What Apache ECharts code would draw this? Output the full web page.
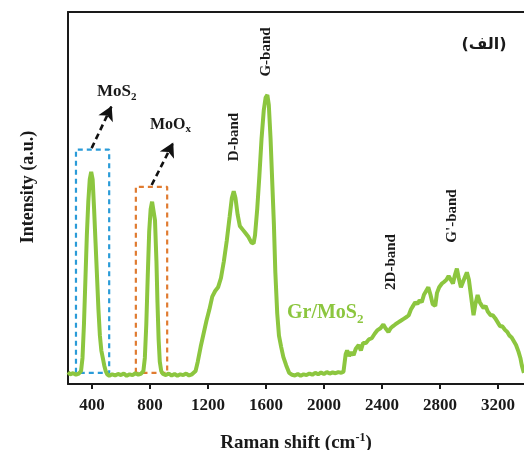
<!DOCTYPE html>
<html>
<head>
<meta charset="utf-8">
<script src="https://cdn.jsdelivr.net/npm/echarts@6/dist/echarts.min.js"></script>
<style>
  html, body { margin: 0; padding: 0; background: #fff; }
  #chart { width: 524px; height: 450px; }
</style>
</head>
<body>
<div id="chart"></div>
<script>
// Raman spectrum of Gr/MoS2 (y in arbitrary units, 0-100)
const ramanShift = [
  235, 250, 270, 290, 310, 325, 335, 345, 355, 365, 375, 385, 395, 405, 415, 425, 435, 445, 455, 465, 475, 485, 495, 505,
  520, 540, 560, 580, 600, 620, 640, 660, 680, 700, 720, 740, 755, 765, 775, 785, 795, 805, 815, 825, 835, 845, 852, 860, 868, 878,
  890, 910, 930, 950, 970, 990, 1010, 1030, 1050, 1070, 1090, 1100, 1115, 1130, 1150, 1170, 1190, 1210, 1230, 1250, 1270, 1290,
  1310, 1330, 1350, 1365, 1378, 1390, 1405, 1420, 1440, 1460, 1480, 1500, 1515, 1525, 1540, 1555, 1570, 1585, 1598, 1610, 1620,
  1632, 1645, 1655, 1665, 1678, 1690, 1705, 1720, 1740, 1760, 1780, 1800, 1820, 1840, 1860, 1880, 1900, 1920, 1940, 1960, 1980,
  2000, 2020, 2040, 2060, 2080, 2100, 2120, 2135, 2150, 2160, 2175, 2190, 2205, 2220, 2240, 2255, 2270, 2290, 2310, 2330, 2350,
  2370, 2390, 2410, 2425, 2445, 2460, 2475, 2492, 2510, 2530, 2550, 2570, 2585, 2600, 2615, 2630, 2645, 2660, 2675, 2690, 2705,
  2720, 2735, 2750, 2768, 2780, 2795, 2814, 2830, 2845, 2860, 2875, 2890, 2905, 2917, 2930, 2945, 2955, 2970, 2986, 3000, 3015,
  3032, 3045, 3060, 3075, 3090, 3101, 3115, 3130, 3150, 3165, 3181, 3200, 3215, 3230, 3250, 3265, 3280, 3295, 3310, 3325, 3342,
  3355, 3365, 3377, 3380
];
const intensity = [
  3.2, 2.6, 2.9, 2.5, 2.8, 3.5, 7, 16, 28, 40, 49, 55, 57, 55, 47, 38, 29, 20, 13, 9, 7, 5, 3.5, 2.6,
  2.2, 2.6, 2.3, 2.7, 2.4, 2.8, 2.2, 2.6, 2.4, 2.9, 2.5, 2.8, 3.5, 7, 16, 29, 41, 47, 49, 48.5, 44, 33, 22, 12, 6, 3.5,
  2.7, 2.4, 2.8, 2.3, 2.7, 2.2, 2.6, 2.4, 2.8, 2.3, 2.6, 2.8, 3.5, 6, 10, 13.5, 17, 20, 23.5, 25, 26, 28.5,
  33, 38.5, 45, 50, 51.8, 50, 45.5, 42.5, 41.5, 40.5, 39.5, 38, 37.8, 40, 47, 56, 66, 73.5, 77, 77.7, 75,
  66, 53, 43, 30, 19, 13, 10, 7.3, 5, 3, 2.5, 2.3, 2.7, 2.2, 2.6, 2.4, 2.8, 2.5, 3.0, 2.6, 3.1,
  2.7, 3.2, 2.8, 3.1, 2.9, 3.2, 3.0, 3.3, 8, 9, 7.5, 8.5, 7.8, 9.5, 10.5, 9, 11, 11, 12, 12.3, 13.5,
  14.5, 15, 16, 15, 14, 15, 15.5, 16, 16.5, 17, 17.5, 18, 18.5, 20, 21, 22, 21.5, 22.5, 22, 24, 25,
  26, 24, 21.5, 21, 24.5, 26, 27, 27.5, 28, 29, 28, 27, 29.5, 31, 28.5, 26, 26, 28.5, 30, 28, 23.5,
  18.5, 21.5, 23.9, 22, 21, 20.4, 21, 19.5, 18.5, 18.5, 17.7, 16.5, 15.5, 15.5, 14.5, 14, 13, 12.5, 11.5, 10.5, 8.7,
  7, 5, 3.3, 3
];
const xTicks = [400, 800, 1200, 1600, 2000, 2400, 2800, 3200];

// dashed boxes and arrows around the MoS2 / MoOx peaks (data coordinates)
const mos2BoxX = [290, 290, 519, 519, 290];
const mos2BoxY = [3, 63, 63, 3, 3];
const mooxBoxX = [703, 703, 919, 919, 703];
const mooxBoxY = [3, 53, 53, 3, 3];
const mos2Arrow = [[398, 63.4], [536, 74.7]];
const mooxArrow = [[812, 53.5], [961, 64.9]];

const serif = '"Liberation Serif", "DejaVu Serif", serif';
const green = '#8cc63f';
const ink = '#1a1a1a';

function zip(xs, ys) {
  return xs.map(function (x, i) { return [x, ys[i]]; });
}

let myChart = echarts.init(document.getElementById('chart'), null, { renderer: 'canvas' });

let option = {
  animation: false,
  backgroundColor: '#fff',
  grid: { left: 68, top: 12, right: 0, bottom: 66, outerBoundsMode: 'none', containLabel: false },
  xAxis: [
    {
      type: 'value',
      min: 235,
      max: 3380,
      name: 'Raman shift (cm{sup|-1})',
      nameLocation: 'middle',
      nameGap: 48,
      nameTextStyle: {
        fontFamily: serif, fontWeight: 'bold', fontSize: 19, color: ink,
        rich: {
          sup: { fontFamily: serif, fontWeight: 'bold', fontSize: 12, color: ink, verticalAlign: 'top', padding: [0, 0, 10, 0] }
        }
      },
      axisLine: { lineStyle: { color: ink, width: 2 } },
      axisTick: { customValues: xTicks, length: 5, lineStyle: { color: ink, width: 2 } },
      axisLabel: {
        customValues: xTicks, margin: 13,
        fontFamily: serif, fontWeight: 'bold', fontSize: 17, color: ink,
        formatter: function (v) { return String(v); }
      },
      splitLine: { show: false }
    },
    {
      // top frame line only
      type: 'value', position: 'top', min: 235, max: 3380,
      axisLine: { show: true, lineStyle: { color: ink, width: 2 } },
      axisTick: { show: false },
      axisLabel: { show: false },
      splitLine: { show: false }
    }
  ],
  yAxis: {
    type: 'value',
    min: 0,
    max: 100,
    axisLine: { show: true, lineStyle: { color: ink, width: 2 } },
    axisTick: { show: false },
    axisLabel: { show: false },
    splitLine: { show: false }
  },
  series: [
    {
      type: 'line', data: zip(mos2BoxX, mos2BoxY), symbol: 'none', z: 1,
      lineStyle: { color: '#2a9bd8', width: 2.2, type: [5, 4] }
    },
    {
      type: 'line', data: zip(mooxBoxX, mooxBoxY), symbol: 'none', z: 1,
      lineStyle: { color: '#e07b30', width: 2.2, type: [5, 4] }
    },
    {
      type: 'line', data: zip(ramanShift, intensity), symbol: 'none', z: 3,
      lineStyle: { color: green, width: 4 }
    },
    {
      type: 'line', data: [], symbol: 'none', z: 4,
      markLine: {
        silent: true,
        symbol: ['none', 'arrow'],
        symbolSize: [12, 14],
        label: { show: false },
        lineStyle: { color: '#111', width: 2.6, type: [6, 4] },
        data: [
          [{ coord: mos2Arrow[0] }, { coord: mos2Arrow[1] }],
          [{ coord: mooxArrow[0] }, { coord: mooxArrow[1] }]
        ]
      }
    }
  ],
  graphic: [
    {
      type: 'text', x: 28, y: 187, rotation: Math.PI / 2,
      style: { text: 'Intensity (a.u.)', font: 'bold 18px ' + serif, fill: ink, align: 'center', verticalAlign: 'middle' }
    },
    {
      type: 'text', x: 97, y: 81,
      style: {
        text: '{m|MoS}{s|2}', fill: ink,
        rich: {
          m: { font: 'bold 17px ' + serif, fill: ink, lineHeight: 22 },
          s: { font: 'bold 11px ' + serif, fill: ink, lineHeight: 22, verticalAlign: 'bottom' }
        }
      }
    },
    {
      type: 'text', x: 150, y: 114,
      style: {
        text: '{m|MoO}{s|x}', fill: ink,
        rich: {
          m: { font: 'bold 16px ' + serif, fill: ink, lineHeight: 21 },
          s: { font: 'bold 11px ' + serif, fill: ink, lineHeight: 21, verticalAlign: 'bottom' }
        }
      }
    },
    {
      type: 'text', x: 234, y: 137, rotation: Math.PI / 2,
      style: { text: 'D-band', font: 'bold 15px ' + serif, fill: ink, align: 'center', verticalAlign: 'middle' }
    },
    {
      type: 'text', x: 266, y: 52, rotation: Math.PI / 2,
      style: { text: 'G-band', font: 'bold 15px ' + serif, fill: ink, align: 'center', verticalAlign: 'middle' }
    },
    {
      type: 'text', x: 391, y: 262, rotation: Math.PI / 2,
      style: { text: '2D-band', font: 'bold 15px ' + serif, fill: ink, align: 'center', verticalAlign: 'middle' }
    },
    {
      type: 'text', x: 452, y: 216, rotation: Math.PI / 2,
      style: { text: "G'-band", font: 'bold 15px ' + serif, fill: ink, align: 'center', verticalAlign: 'middle' }
    },
    {
      type: 'text', x: 484, y: 45,
      style: { text: '(الف)', font: 'bold 16px "DejaVu Sans", sans-serif', fill: ink, align: 'center', verticalAlign: 'middle' }
    },
    {
      type: 'text', x: 287, y: 300,
      style: {
        text: '{m|Gr/MoS}{s|2}', fill: green,
        rich: {
          m: { font: 'bold 20px ' + serif, fill: green, lineHeight: 26 },
          s: { font: 'bold 13px ' + serif, fill: green, lineHeight: 26, verticalAlign: 'bottom' }
        }
      }
    }
  ]
};

myChart.setOption(option);
</script>
</body>
</html>
